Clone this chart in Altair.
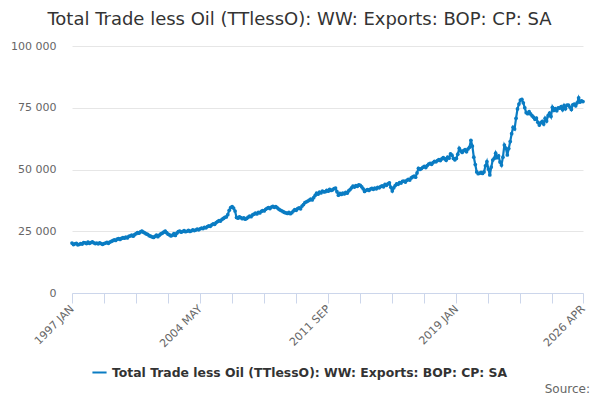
import pandas as pd
import altair as alt

SERIES = "Total Trade less Oil (TTlessO): WW: Exports: BOP: CP: SA"
MONTHS = ["JAN", "FEB", "MAR", "APR", "MAY", "JUN",
          "JUL", "AUG", "SEP", "OCT", "NOV", "DEC"]

# Monthly values in £ million (thousands)
y1997 = [20.2, 19.6, 19.9, 20.1, 19.5, 19.7, 20.0, 19.8, 20.4, 20.3, 20.0, 20.6]
y1998 = [20.1, 20.4, 20.7, 20.3, 20.0, 20.2, 19.9, 20.3, 20.0, 19.7, 20.0, 20.2]
y1999 = [20.5, 20.1, 20.6, 20.9, 21.2, 21.5, 21.3, 21.8, 22.0, 21.7, 22.1, 22.4]
y2000 = [22.2, 22.6, 22.3, 22.9, 23.1, 23.4, 23.0, 23.6, 24.0, 24.4, 24.2, 24.7]
y2001 = [25.1, 24.6, 24.3, 23.9, 23.7, 23.2, 23.0, 22.7, 22.5, 22.9, 23.4, 22.8]
y2002 = [23.4, 23.9, 24.2, 24.6, 25.1, 24.4, 23.8, 23.5, 23.1, 23.4, 24.0, 23.3]
y2003 = [24.2, 24.8, 25.1, 24.6, 24.9, 25.3, 24.8, 25.0, 25.4, 24.9, 25.2, 25.6]
y2004 = [25.3, 25.5, 25.9, 25.6, 26.0, 26.3, 26.1, 26.6, 26.4, 26.9, 27.2, 27.0]
y2005 = [27.6, 28.0, 27.8, 28.5, 28.9, 29.3, 29.1, 29.8, 30.2, 30.6, 30.8, 31.7]
y2006 = [33.5, 34.6, 35.0, 34.4, 33.2, 30.6, 30.3, 30.8, 30.5, 30.1, 30.4, 29.9]
y2007 = [30.2, 30.7, 31.1, 30.9, 31.6, 31.9, 32.3, 32.0, 32.6, 32.4, 33.0, 33.4]
y2008 = [33.2, 33.9, 34.3, 34.6, 34.2, 34.8, 35.1, 34.7, 35.0, 34.5, 34.0, 33.6]
y2009 = [33.3, 32.9, 32.6, 32.4, 32.2, 32.6, 32.1, 32.5, 33.2, 33.8, 33.5, 34.2]
y2010 = [34.5, 34.1, 35.2, 35.8, 36.6, 36.9, 37.2, 37.6, 38.0, 37.7, 38.6, 39.5]
y2011 = [40.4, 40.0, 40.8, 40.5, 41.2, 40.9, 41.0, 41.6, 41.2, 42.0, 41.5, 41.8]
y2012 = [42.3, 42.5, 41.0, 39.6, 40.3, 39.9, 40.4, 40.1, 40.7, 40.4, 41.3, 41.9]
y2013 = [42.6, 43.3, 42.9, 43.5, 43.2, 43.8, 43.6, 43.0, 42.2, 41.1, 41.6, 41.9]
y2014 = [41.5, 42.1, 42.4, 42.0, 42.5, 42.2, 42.8, 42.6, 43.1, 43.4, 43.0, 44.0]
y2015 = [43.6, 44.2, 44.6, 42.8, 41.3, 42.6, 43.5, 44.2, 44.0, 44.7, 44.5, 45.2]
y2016 = [45.3, 44.9, 45.6, 46.0, 45.7, 46.6, 47.0, 47.3, 46.9, 48.6, 50.5, 50.0]
y2017 = [50.4, 50.9, 51.3, 50.8, 51.6, 52.2, 52.5, 52.1, 52.8, 53.3, 53.1, 53.6]
y2018 = [54.0, 53.6, 54.3, 54.8, 54.4, 53.7, 55.0, 54.6, 56.3, 55.8, 54.5, 53.9]
y2019 = [54.5, 56.2, 58.6, 57.5, 56.9, 57.6, 58.0, 57.2, 58.3, 59.0, 61.8, 59.5]
y2020 = [55.0, 52.0, 49.0, 48.3, 48.5, 48.8, 48.4, 49.0, 51.5, 53.2, 50.2, 47.8]
y2021 = [51.0, 53.8, 54.5, 56.6, 54.8, 55.5, 53.0, 51.8, 55.0, 59.9, 58.7, 55.9]
y2022 = [58.5, 61.3, 64.5, 67.1, 66.4, 70.7, 74.5, 76.5, 78.1, 78.4, 77.0, 75.0]
y2023 = [73.0, 72.6, 73.4, 72.5, 71.8, 71.2, 70.3, 70.8, 69.1, 68.0, 68.9, 69.5]
y2024 = [68.4, 70.7, 69.6, 71.8, 72.8, 71.5, 75.2, 73.9, 74.6, 73.8, 75.0, 74.8]
y2025 = [75.5, 74.2, 75.9, 74.6, 76.1, 76.1, 75.3, 74.3, 76.2, 76.5, 75.8, 77.0]
y2026 = [79.0, 77.3, 77.8, 77.5]

years = [y1997, y1998, y1999, y2000, y2001, y2002, y2003, y2004, y2005, y2006,
         y2007, y2008, y2009, y2010, y2011, y2012, y2013, y2014, y2015, y2016,
         y2017, y2018, y2019, y2020, y2021, y2022, y2023, y2024, y2025, y2026]

rows = []
for i, vals in enumerate(years):
    for j, v in enumerate(vals):
        rows.append({"idx": i * 12 + j,
                     "period": f"{1997 + i} {MONTHS[j]}",
                     "value": v * 1000,
                     "series": SERIES})
df = pd.DataFrame(rows)

last = len(df) - 1
tick_vals = list(range(0, last - 10, 22)) + [last]
labelled = {k: df.loc[k, "period"] for k in [0, 88, 176, 264, last]}
label_expr = "{" + ", ".join(f"'{k}': '{v}'" for k, v in labelled.items()) + "}[datum.value] || ''"

FONT = "DejaVu Sans"
BLUE = "#0a7cc3"

x_axis = alt.Axis(values=tick_vals, labelExpr=label_expr, labelAngle=-45,
                  labelAlign="right", labelBaseline="middle", labelFontSize=11,
                  labelColor="#666666", labelFont=FONT, labelPadding=4,
                  grid=False, domainColor="#ccd6eb", tickColor="#ccd6eb",
                  tickSize=10, title=None, labelOverlap=False)
y_axis = alt.Axis(values=[0, 25000, 50000, 75000, 100000],
                  labelExpr="replace(format(datum.value, ','), ',', ' ')",
                  labelFontSize=11, labelColor="#666666", labelFont=FONT,
                  labelPadding=16, domain=False, ticks=False,
                  gridColor="#e6e6e6", title=None)

line = alt.Chart(df).mark_line(
    strokeWidth=2.2,
    point=alt.OverlayMarkDef(size=14, filled=True, color=BLUE)
).encode(
    x=alt.X("idx:Q", axis=x_axis, scale=alt.Scale(domain=[0, last], nice=False)),
    y=alt.Y("value:Q", axis=y_axis, scale=alt.Scale(domain=[0, 100000], nice=False)),
    color=alt.Color("series:N", scale=alt.Scale(domain=[SERIES], range=[BLUE]),
                    legend=alt.Legend(orient="none", legendX=19, legendY=318,
                                      title=None, symbolType="stroke",
                                      symbolStrokeWidth=2, symbolSize=200,
                                      labelFontSize=12.4, labelFontWeight="bold",
                                      labelColor="#333333", labelFont=FONT,
                                      labelLimit=0)),
    tooltip=["period:N", "value:Q"]
)

source = alt.Chart(pd.DataFrame({"t": ["Source:"]})).mark_text(
    align="right", baseline="middle", fontSize=12, color="#666666", font=FONT
).encode(x=alt.value(518), y=alt.value(343), text="t:N")

chart = alt.layer(line, source).properties(
    width=511, height=247,
    autosize=alt.AutoSizeParams(type="none"),
    padding={"left": 64, "top": 38, "right": 9, "bottom": 105},
    title=alt.TitleParams(SERIES, anchor="middle", dx=-28, offset=11,
                          fontSize=18, font=FONT, fontWeight="normal",
                          color="#333333")
).configure_view(stroke=None)

chart.save("out.html", embed_options={"renderer": "svg", "actions": False})
